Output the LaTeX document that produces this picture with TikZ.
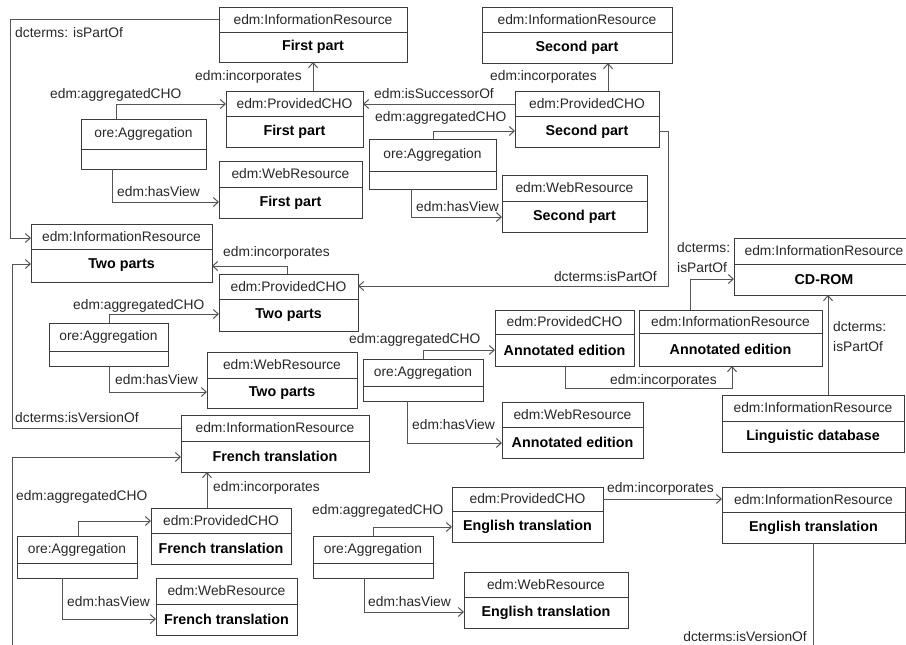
\documentclass[tikz,border=0pt]{standalone}
\usepackage{fontspec}
\setmainfont{Liberation Sans}
\usetikzlibrary{arrows.meta}
\definecolor{linecol}{RGB}{85,85,85}
\definecolor{boxcol}{RGB}{60,60,60}
\definecolor{txtcol}{RGB}{40,40,40}
\tikzset{
  box/.style={draw=boxcol, line width=1pt, inner sep=0pt, outer sep=0pt, rectangle},
  divline/.style={draw=boxcol, line width=1pt},
  hdr/.style={font=\fontsize{13.8}{16}\selectfont, text=txtcol, inner sep=0pt},
  bdy/.style={font=\fontsize{14.3}{17}\selectfont\bfseries, text=black, inner sep=0pt},
  conn/.style={draw=linecol, line width=1pt, -{Straight Barb[length=5pt,width=9pt]}},
  lbl/.style={font=\fontsize{13.8}{20}\selectfont, text=txtcol, inner sep=0pt, align=left},
}
% #1 name, #2 x1, #3 y1, #4 x2, #5 ydiv, #6 y2, #7 header, #8 body
\newcommand\umlbox[8]{%
  \node[box, minimum width={#4-#2}, minimum height={#6-#3}] (#1) at ({(#2+#4)/2},{(#3+#6)/2}) {};
  \draw[divline] (#2,#5) -- (#4,#5);
  \node[hdr] (#1-h) at ({(#2+#4)/2},{(#3+#5)/2}) {#7};
  \node[bdy] (#1-b) at ({(#2+#4)/2},{(#5+#6)/2}) {#8};
}
\begin{document}
\begin{tikzpicture}[x=1pt,y=-1pt]
\clip (0,0) rectangle (906,645);
\fill[white] (0,0) rectangle (906,645);

% ---- boxes ----
\umlbox{irFirst}{219}{7}{407}{32}{62}{edm:InformationResource}{First part}
\umlbox{pchoFirst}{226}{91}{363}{116}{147}{edm:ProvidedCHO}{First part}
\umlbox{aggFirst}{81}{119}{206}{149}{169}{ore:Aggregation}{}
\umlbox{wrFirst}{219}{161}{362}{187}{218}{edm:WebResource}{First part}

\umlbox{irSecond}{482}{7}{672}{32}{63}{edm:InformationResource}{Second part}
\umlbox{pchoSecond}{515}{91}{659}{116}{147}{edm:ProvidedCHO}{Second part}
\umlbox{aggSecond}{369}{139}{496}{171}{189}{ore:Aggregation}{}
\umlbox{wrSecond}{502}{175}{647}{201}{232}{edm:WebResource}{Second part}

\umlbox{irTwo}{31}{224}{212}{249}{282}{edm:InformationResource}{Two parts}
\umlbox{pchoTwo}{219}{274}{358}{299}{331}{edm:ProvidedCHO}{Two parts}
\umlbox{aggTwo}{49}{323}{168}{351}{366}{ore:Aggregation}{}
\umlbox{wrTwo}{207}{352}{357}{378}{408}{edm:WebResource}{Two parts}

\umlbox{irCD}{734}{238}{914}{264}{295}{edm:InformationResource}{CD-ROM}
\umlbox{pchoAnn}{495}{310}{634}{334}{366}{edm:ProvidedCHO}{Annotated edition}
\umlbox{irAnn}{639}{310}{822}{333}{366}{edm:InformationResource}{Annotated edition}
\umlbox{aggAnn}{363}{359}{483}{386}{401}{ore:Aggregation}{}
\umlbox{wrAnn}{502}{402}{643}{427}{458}{edm:WebResource}{Annotated edition}
\umlbox{irLing}{722}{395}{904}{421}{452}{edm:InformationResource}{Linguistic database}

\umlbox{irFrench}{181}{415}{369}{441}{472}{edm:InformationResource}{French translation}
\umlbox{pchoFrench}{151}{508}{291}{533}{564}{edm:ProvidedCHO}{French translation}
\umlbox{aggFrench}{17}{536}{137}{563}{578}{ore:Aggregation}{}
\umlbox{wrFrench}{156}{578}{297}{604}{635}{edm:WebResource}{French translation}

\umlbox{pchoEnglish}{452}{487}{603}{511}{542}{edm:ProvidedCHO}{English translation}
\umlbox{irEnglish}{722}{487}{905}{512}{543}{edm:InformationResource}{English translation}
\umlbox{aggEnglish}{313}{536}{433}{563}{578}{ore:Aggregation}{}
\umlbox{wrEnglish}{464}{572}{628}{597}{628}{edm:WebResource}{English translation}

% ---- connectors ----
% First part
\draw[conn] (irFirst.west |- 0,19) -- (10,19) -- (10,238) -- (irTwo.west |- 0,238);
\node[lbl, anchor=west] (lIsPartOf1) at (15,33) {dcterms: isPartOf};
\draw[conn] (aggFirst.north -| 116,0) |- (pchoFirst.west |- 0,104);
\node[lbl, anchor=west] (lAgg1) at (50,95) {edm:aggregatedCHO};
\draw[conn] (aggFirst.south -| 112,0) |- (wrFirst.west |- 0,202);
\node[lbl, anchor=west] (lView1) at (117,192) {edm:hasView};
\draw[conn] (pchoFirst.north -| 313,0) -- (irFirst.south -| 313,0);
\node[lbl, anchor=east] (lInc1) at (302,77) {edm:incorporates};

% Second part
\draw[conn] (pchoSecond.west |- 0,104) -- (pchoFirst.east |- 0,104);
\node[lbl, anchor=west] (lSucc) at (374,94) {edm:isSuccessorOf};
\draw[conn] (aggSecond.north -| 433,0) |- (pchoSecond.west |- 0,131);
\node[lbl, anchor=west] (lAgg2) at (375,118) {edm:aggregatedCHO};
\draw[conn] (aggSecond.south -| 411,0) |- (wrSecond.west |- 0,217);
\node[lbl, anchor=west] (lView2) at (416,207) {edm:hasView};
\draw[conn] (pchoSecond.north -| 608,0) -- (irSecond.south -| 608,0);
\node[lbl, anchor=east] (lInc2) at (597,77) {edm:incorporates};
\draw[conn] (pchoSecond.east |- 0,131) -| (668,286) -- (pchoTwo.east |- 0,286);
\node[lbl, anchor=east] (lIsPartOf2) at (657,277) {dcterms:isPartOf};

% Two parts
\draw[conn] (pchoTwo.north -| 287,0) |- (irTwo.east |- 0,266);
\node[lbl, anchor=west] (lInc3) at (223,253) {edm:incorporates};
\draw[conn] (aggTwo.north -| 109,0) |- (pchoTwo.west |- 0,314);
\node[lbl, anchor=west] (lAgg3) at (73,306) {edm:aggregatedCHO};
\draw[conn] (aggTwo.south -| 109,0) |- (wrTwo.west |- 0,392);
\node[lbl, anchor=west] (lView3) at (115,380) {edm:hasView};
\draw[conn] (irFrench.west |- 0,428) -| (12,264) -- (irTwo.west |- 0,264);
\node[lbl, anchor=west] (lVer1) at (15,418) {dcterms:isVersionOf};

% Annotated edition
\draw[conn] (aggAnn.north -| 423,0) |- (pchoAnn.west |- 0,350);
\node[lbl, anchor=west] (lAgg4) at (349,340) {edm:aggregatedCHO};
\draw[conn] (aggAnn.south -| 407,0) |- (wrAnn.west |- 0,443);
\node[lbl, anchor=west] (lView4) at (412,425) {edm:hasView};
\draw[conn] (pchoAnn.south -| 565,0) |- (732,388) -- (irAnn.south -| 732,0);
\node[lbl, anchor=west] (lInc4) at (610,381) {edm:incorporates};
\draw[conn] (irAnn.north -| 690,0) |- (irCD.west |- 0,279);
\node[lbl, anchor=west] (lIsPartOf3) at (677,258) {dcterms:\\isPartOf};
\draw[conn] (irLing.north -| 828,0) -- (irCD.south -| 828,0);
\node[lbl, anchor=west] (lIsPartOf4) at (833,337) {dcterms:\\isPartOf};

% French translation
\draw[conn] (pchoFrench.north -| 207,0) -- (irFrench.south -| 207,0);
\node[lbl, anchor=west] (lInc5) at (213,488) {edm:incorporates};
\draw[conn] (aggFrench.north -| 78,0) |- (pchoFrench.west |- 0,521);
\node[lbl, anchor=west] (lAgg5) at (16,497) {edm:aggregatedCHO};
\draw[conn] (aggFrench.south -| 62,0) |- (wrFrench.west |- 0,619);
\node[lbl, anchor=west] (lView5) at (67,602) {edm:hasView};

% English translation
\draw[conn] (aggEnglish.north -| 373,0) |- (pchoEnglish.west |- 0,527);
\node[lbl, anchor=west] (lAgg6) at (312,511) {edm:aggregatedCHO};
\draw[conn] (aggEnglish.south -| 364,0) |- (wrEnglish.west |- 0,612);
\node[lbl, anchor=west] (lView6) at (368,602) {edm:hasView};
\draw[conn] (pchoEnglish.east |- 0,499) -- (irEnglish.west |- 0,499);
\node[lbl, anchor=west] (lInc6) at (607,489) {edm:incorporates};
\draw[conn] (irEnglish.south -| 813,0) -- (813,660) -- (12,660) -- (12,457) -- (irFrench.west |- 0,457);
\node[lbl, anchor=east] (lVer2) at (807,637) {dcterms:isVersionOf};
\end{tikzpicture}
\end{document}
